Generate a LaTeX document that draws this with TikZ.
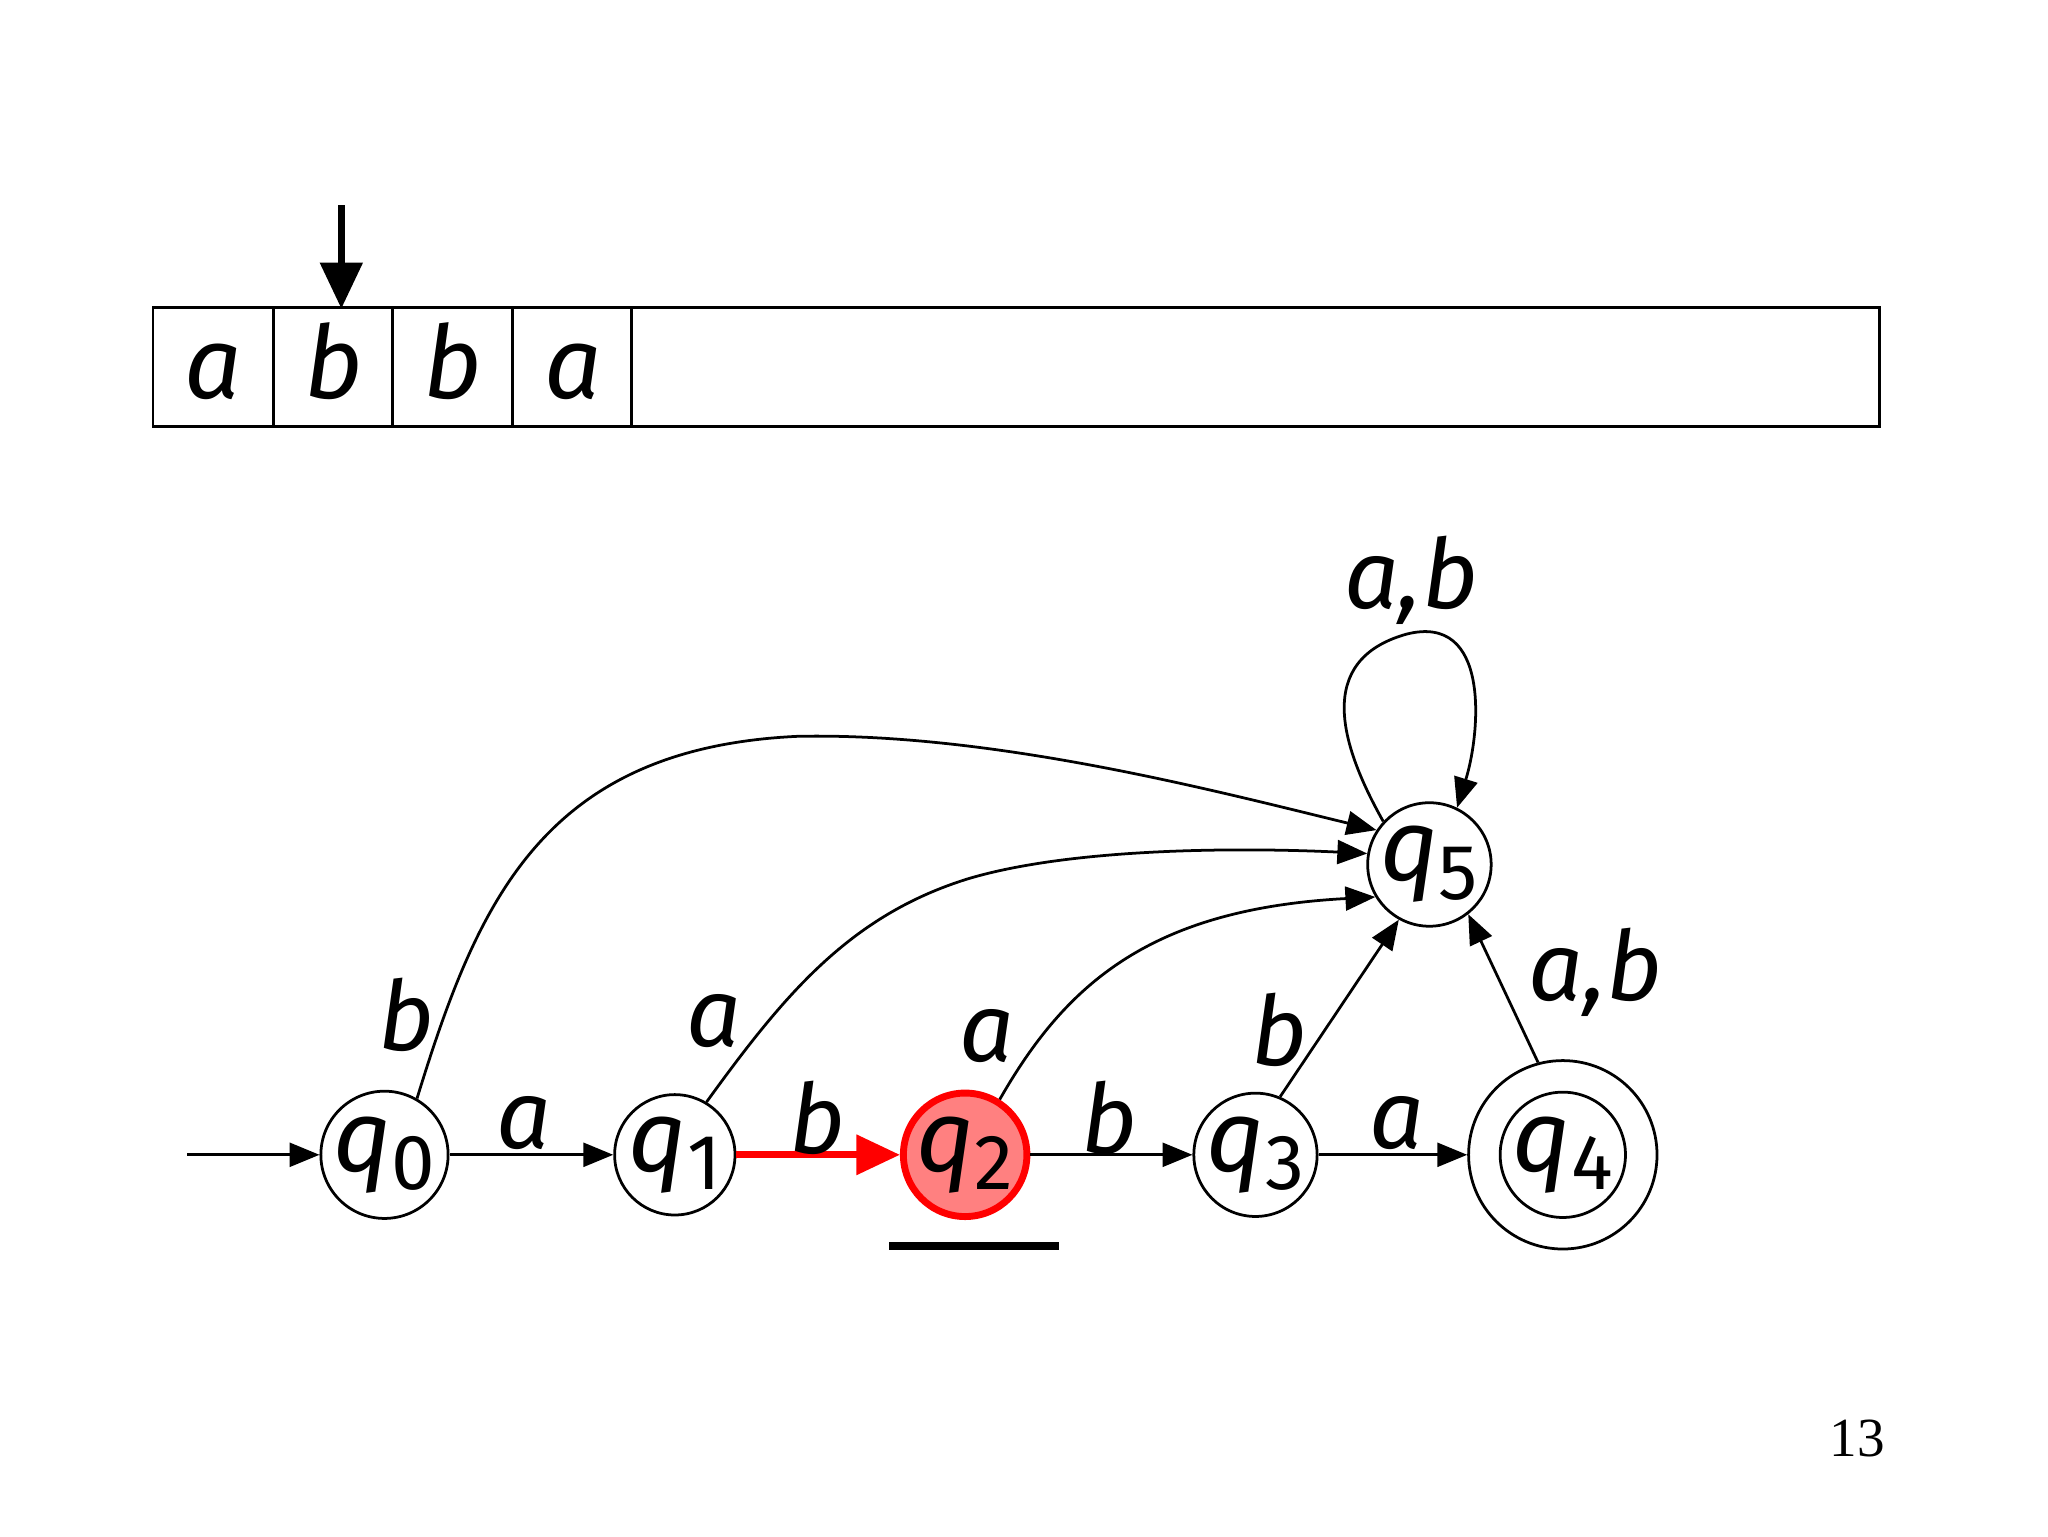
\documentclass[tikz,border=0pt]{standalone}
\usepackage{fontspec}
\setmainfont{Fira Sans}
\newfontfamily\pagefont{Liberation Serif}
\usetikzlibrary{arrows.meta}
\definecolor{statered}{RGB}{255,128,128}
\newcommand{\stl}[1]{\textit{q}\raisebox{-0.35ex}{\fontsize{17}{17}\selectfont #1}}
\tikzset{
  state/.style={circle,draw,line width=0.6pt,minimum size=0.92cm,inner sep=0pt,font=\fontsize{22}{22}\selectfont},
  lbl/.style={anchor=base,inner sep=0pt,font=\fontsize{21}{21}\selectfont\itshape},
  tapelbl/.style={anchor=base,inner sep=0pt,font=\fontsize{22}{22}\selectfont\itshape},
  edge/.style={line width=0.6pt,-{Triangle[length=6.5pt,width=5.2pt]}},
  hotedge/.style={line width=1.5pt,red,-{Triangle[length=9.5pt,width=8.5pt]}},
  tapeline/.style={line width=0.6pt}
}
\begin{document}
\begin{tikzpicture}[x=0.01cm,y=-0.01cm]
\useasboundingbox (0,0) rectangle (1566,1174.5);
% tape
\draw[tapeline] (117,235) rectangle (1437,326);
\foreach \x in {209,300,392,483} \draw[tapeline] (\x,235) -- (\x,326);
\node[tapelbl] (t1) at (163,305) {a};
\node[tapelbl] (t2) at (255,305) {b};
\node[tapelbl] (t3) at (346,305) {b};
\node[tapelbl] (t4) at (438,305) {a};
\coordinate (headtop) at (261,157);
\coordinate (headbot) at (261,236);
\draw[line width=1.5pt,-{Triangle[length=10pt,width=9pt]}] (headtop) -- (headbot);
% states
\node[state] (q0) at (294,883) {\stl{0}};
\node[state] (q1) at (516,883) {\stl{1}};
\node[state,draw=red,line width=1.5pt,fill=statered] (q2) at (738,883) {\stl{2}};
\node[state] (q3) at (960,883) {\stl{3}};
\node[state] (q4) at (1195,883) {\stl{4}};
\node[circle,draw,line width=0.6pt,minimum size=1.44cm,inner sep=0pt] (q4o) at (1195,883) {};
\node[state] (q5) at (1093,661) {\stl{5}};
\coordinate (init) at (143,883);
% edges
\draw[edge] (init) -- (q0);
\draw[edge] (q0) -- (q1);
\draw[hotedge] (q1) -- (q2);
\draw[edge] (q2) -- (q3);
\draw[edge] (q3) -- (q4o);
\draw[edge] (q0.60) .. controls (365,690) and (415,572) .. (610,563) .. controls (760,560) and (930,605) .. (q5.147);
\draw[edge] (q1.59) .. controls (600,760) and (650,700) .. (740,672) .. controls (820,648) and (950,648) .. (q5.170);
\draw[edge] (q2.58) .. controls (815,752) and (880,695) .. (q5.211);
\draw[edge] (q3.67) -- (q5.241);
\draw[edge] (q4o.105) -- (q5.308);
\draw[edge] (q5.137) .. controls (1025,570) and (1005,505) .. (1075,485) .. controls (1140,468) and (1132,560) .. (q5.64);
% labels
\node[lbl] (l01) at (401,878) {a};
\node[lbl] (l12) at (625,882) {b};
\node[lbl] (l23) at (848,882) {b};
\node[lbl] (l34) at (1068,878) {a};
\node[lbl] (l05) at (311,803) {b};
\node[lbl] (l15) at (546,800) {a};
\node[lbl] (l25) at (755,812) {a};
\node[lbl] (l35) at (978,815) {b};
\node[lbl] (l45) at (1220,765) {a,b};
\node[lbl] (l55) at (1079,465) {a,b};
% underline
\coordinate (ula) at (680,953);
\coordinate (ulb) at (810,953);
\draw[line width=1.7pt] (ula) -- (ulb);
% page number
\node[font=\pagefont\fontsize{12}{12}\selectfont,inner sep=0pt] (pg) at (1420,1100) {13};
\end{tikzpicture}
\end{document}
